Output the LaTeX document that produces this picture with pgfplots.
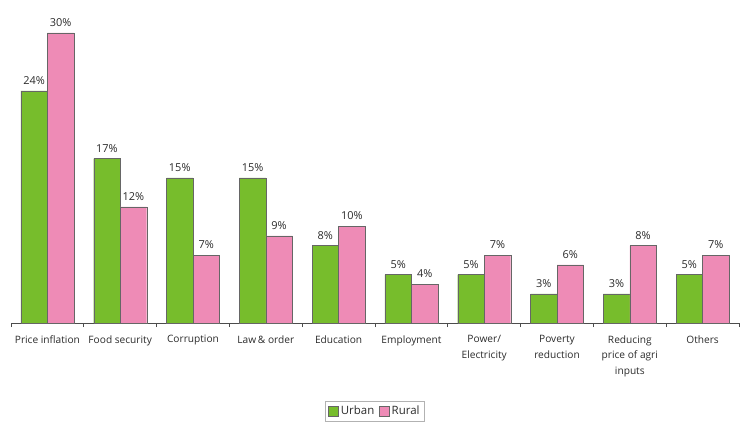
\documentclass[border=0pt]{standalone}
\usepackage{fontspec}
\setmainfont{Open Sans}
\usepackage{pgfplots}
\pgfplotsset{compat=1.18}
\definecolor{urban}{HTML}{77BD2C}
\definecolor{rural}{HTML}{EE8BB6}
\definecolor{txt}{HTML}{2B2B2B}

\begin{document}
\begin{tikzpicture}[x=1bp,y=1bp]
\path (0,0) rectangle (751,421);
\begin{axis}[at={(11bp,98bp)},anchor=south west,
  scale only axis,width=728bp,height=290bp,
  ybar=0pt,bar width=26.5bp,
  xmin=-0.5,xmax=9.5,ymin=0,ymax=30,
  axis x line*=bottom,axis y line=none,
  axis line style={black!70,line width=0.8pt},
  xtick={0,...,9},major tick length=0pt,
  minor xtick={-0.5,0.5,...,9.5},minor tick length=4bp,
  tick align=outside,
  minor tick style={black!70,line width=0.8pt},
  xticklabels={Price inflation,Food security,Corruption,Law\,\& order,Education,Employment,Power/\\Electricity,Poverty\\reduction,Reducing\\price of agri\\inputs,Others},
  xticklabel style={font=\fontsize{10.2}{15.5}\selectfont,text=txt,align=center,anchor=north,yshift=-9bp},
  /pgf/number format/assume math mode=true,
  nodes near coords={\pgfmathprintnumber{\pgfplotspointmeta}\%},
  every node near coord/.append style={font=\fontsize{11}{12}\selectfont,text=txt,yshift=3bp},
  legend columns=2,
  legend style={at={(0.5,-0.268)},anchor=north,draw=black!30,font=\fontsize{11.5}{13}\selectfont,
    text=txt,inner sep=3bp,/tikz/every even column/.append style={column sep=3bp}},
  legend image code/.code={\fill[#1] (0bp,-5bp) rectangle (10bp,5bp);},
  ]
\addplot[fill=urban,draw=black!60,line width=0.4pt] coordinates {(0,24)(1,17)(2,15)(3,15)(4,8)(5,5)(6,5)(7,3)(8,3)(9,5)};
\addlegendentry{Urban}
\addplot[fill=rural,draw=black!60,line width=0.4pt] coordinates {(0,30)(1,12)(2,7)(3,9)(4,10)(5,4)(6,7)(7,6)(8,8)(9,7)};
\addlegendentry{Rural}
\end{axis}
\end{tikzpicture}
\end{document}
